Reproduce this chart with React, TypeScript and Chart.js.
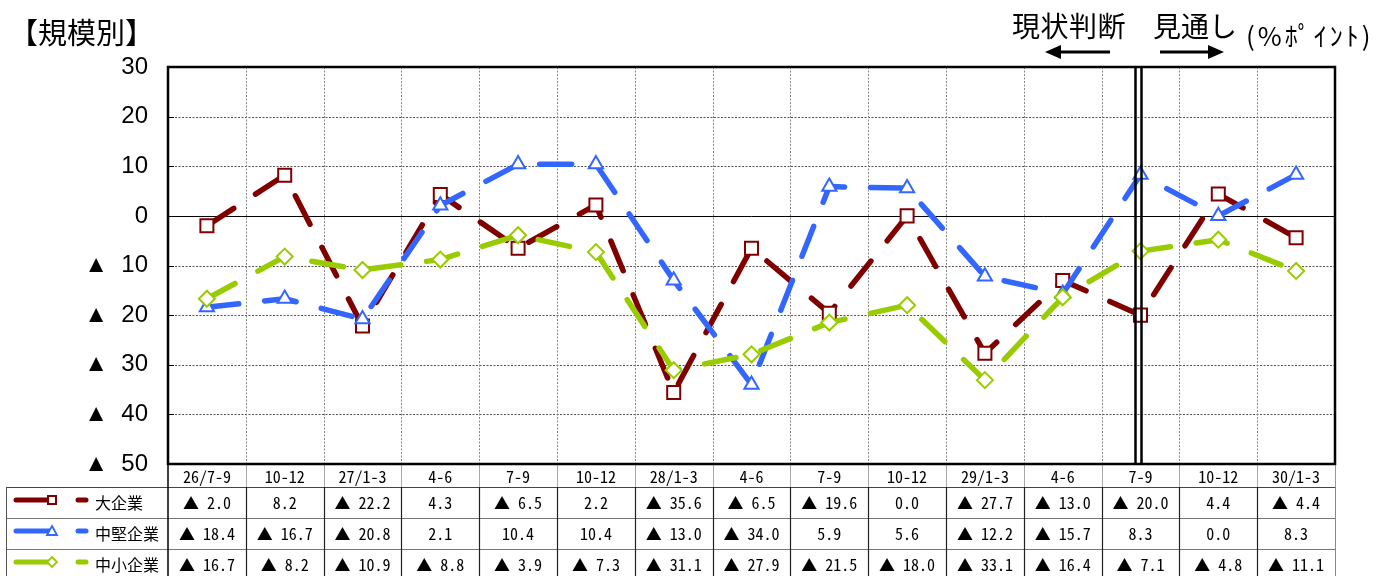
import React, { useEffect, useRef } from 'react';
import { Chart, registerables } from 'chart.js';

Chart.register(...registerables);

// ---------- data ----------
const categories = ['26/7-9', '10-12', '27/1-3', '4-6', '7-9', '10-12', '28/1-3', '4-6', '7-9', '10-12', '29/1-3', '4-6', '7-9', '10-12', '30/1-3'];
const seriesNames = ['大企業', '中堅企業', '中小企業'];
const largeValues = [-2.0, 8.2, -22.2, 4.3, -6.5, 2.2, -35.6, -6.5, -19.6, 0.0, -27.7, -13.0, -20.0, 4.4, -4.4];
const midValues = [-18.4, -16.7, -20.8, 2.1, 10.4, 10.4, -13.0, -34.0, 5.9, 5.6, -12.2, -15.7, 8.3, 0.0, 8.3];
const smallValues = [-16.7, -8.2, -10.9, -8.8, -3.9, -7.3, -31.1, -27.9, -21.5, -18.0, -33.1, -16.4, -7.1, -4.8, -11.1];
const yTicks = [30, 20, 10, 0, -10, -20, -30, -40, -50];
const dividerIndex = 12; // 現状判断 | 見通し split at "7-9"

// ---------- styles ----------
const RED = '#800000';
const BLUE = '#3366FF';
const GREEN = '#99CC00';
const COLORS = [RED, BLUE, GREEN];
const STYLES = ['rect', 'triangle', 'rectRot'];
const CJK = '"Noto Sans CJK JP", "Noto Sans CJK SC", sans-serif';
const MONO = '"Noto Sans Mono CJK JP", "Noto Sans CJK JP", monospace';
const AXIS_FONT = '"Liberation Sans", Arial, sans-serif';

const W = 1378;
const H = 576;
const PLOT_L = 168;
const PLOT_R = 1335;
const PLOT_T = 67;
const PLOT_B = 464;
const CANVAS_H = 487;
const TABLE_L = 6;
const ROW_TOP = 487;
const ROW_H = 31;
const COL_W = (PLOT_R - PLOT_L) / categories.length;

const fmtAxis = (v: number) => (v < 0 ? '▲  ' + Math.abs(v) : String(v));
const fmtTable = (v: number) => (v < 0 ? '▲ ' + Math.abs(v).toFixed(1) : v.toFixed(1));

const framePlugin = {
  id: 'frame',
  beforeDatasetsDraw(chart: any) {
    const { ctx, chartArea: a, scales } = chart;
    const x = scales.x;
    const y = scales.y;
    ctx.save();
    ctx.lineWidth = 1;
    for (const t of yTicks) {
      if (t === yTicks[0] || t === yTicks[yTicks.length - 1]) continue;
      const py = Math.round(y.getPixelForValue(t)) + 0.5;
      ctx.beginPath();
      if (t === 0) {
        ctx.setLineDash([]);
        ctx.strokeStyle = '#000';
      } else {
        ctx.setLineDash([2, 1.5]);
        ctx.strokeStyle = '#555';
      }
      ctx.moveTo(a.left, py);
      ctx.lineTo(a.right, py);
      ctx.stroke();
    }
    const hb = CANVAS_H;
    for (let i = 1; i < categories.length; i++) {
      const px = Math.round((x.getPixelForValue(i - 1) + x.getPixelForValue(i)) / 2) + 0.5;
      ctx.setLineDash([2, 1.5]);
      ctx.strokeStyle = '#888';
      ctx.beginPath();
      ctx.moveTo(px, a.top);
      ctx.lineTo(px, a.bottom);
      ctx.stroke();
      ctx.setLineDash([]);
      ctx.strokeStyle = '#aaa';
      ctx.beginPath();
      ctx.moveTo(px, a.bottom);
      ctx.lineTo(px, hb);
      ctx.stroke();
    }
    ctx.setLineDash([]);
    ctx.strokeStyle = '#999';
    ctx.beginPath();
    ctx.moveTo(a.right + 0.5, a.bottom);
    ctx.lineTo(a.right + 0.5, hb);
    ctx.stroke();
    ctx.strokeStyle = '#000';
    ctx.lineWidth = 1.5;
    ctx.beginPath();
    ctx.moveTo(a.left, a.bottom);
    ctx.lineTo(a.left, hb);
    ctx.stroke();
    ctx.restore();
  },
  afterDatasetsDraw(chart: any) {
    const { ctx, chartArea: a, scales } = chart;
    const x = scales.x;
    const y = scales.y;
    ctx.save();
    ctx.setLineDash([]);
    ctx.strokeStyle = '#000';
    ctx.lineWidth = 1;
    for (const t of yTicks) {
      const py = Math.round(y.getPixelForValue(t)) + 0.5;
      ctx.beginPath();
      ctx.moveTo(a.left, py);
      ctx.lineTo(a.left + 6, py);
      ctx.stroke();
    }
    const cx = x.getPixelForValue(dividerIndex);
    ctx.lineWidth = 2.5;
    for (const off of [-5, 1]) {
      ctx.beginPath();
      ctx.moveTo(cx + off, a.top);
      ctx.lineTo(cx + off, a.bottom);
      ctx.stroke();
    }
    ctx.lineWidth = 2.5;
    ctx.strokeRect(a.left, a.top, a.right - a.left, a.bottom - a.top);
    ctx.restore();
  },
};

function LegendMark({ idx, cy }: { idx: number; cy: number }) {
  const c = COLORS[idx];
  const mx = 52;
  let marker: React.ReactNode;
  if (idx === 0) {
    marker = <rect x={mx - 4} y={cy - 4} width={8} height={8} fill="#fff" stroke={c} strokeWidth={2} />;
  } else if (idx === 1) {
    marker = <polygon points={`${mx},${cy - 5} ${mx + 5},${cy + 4} ${mx - 5},${cy + 4}`} fill="#fff" stroke={c} strokeWidth={1.8} />;
  } else {
    marker = <polygon points={`${mx},${cy - 5} ${mx + 5},${cy} ${mx},${cy + 5} ${mx - 5},${cy}`} fill="#fff" stroke={c} strokeWidth={1.8} />;
  }
  return (
    <g>
      <line x1={16} y1={cy} x2={mx} y2={cy} stroke={c} strokeWidth={5} strokeLinecap="round" />
      {marker}
      <line x1={78} y1={cy} x2={86} y2={cy} stroke={c} strokeWidth={5} strokeLinecap="round" />
    </g>
  );
}

export default function App() {
  const canvasRef = useRef<HTMLCanvasElement | null>(null);

  useEffect(() => {
    document.body.style.margin = '0';
    document.body.style.overflow = 'hidden';
    const canvas = canvasRef.current;
    if (!canvas) return;
    const seriesData = [largeValues, midValues, smallValues];
    const chart = new Chart(canvas, {
      type: 'line',
      data: {
        labels: categories,
        datasets: seriesData.map((d, i) => ({
          label: seriesNames[i],
          data: d,
          borderColor: COLORS[i],
          borderWidth: 5.5,
          borderDash: [32, 26],
          borderCapStyle: 'round',
          borderJoinStyle: 'round',
          tension: 0,
          fill: false,
          pointStyle: STYLES[i] as any,
          pointRadius: i === 0 ? 9.2 : i === 1 ? 8.2 : 8,
          pointHoverRadius: 0,
          pointBorderWidth: 2,
          pointBorderColor: COLORS[i],
          pointBackgroundColor: '#fff',
          clip: false,
          order: 2 - i,
        })) as any,
      },
      options: {
        responsive: false,
        maintainAspectRatio: false,
        animation: false,
        events: [],
        layout: { autoPadding: false, padding: { top: PLOT_T, right: W - PLOT_R, left: 0, bottom: 0 } },
        plugins: {
          legend: { display: false },
          tooltip: { enabled: false },
          title: { display: false },
        },
        scales: {
          x: {
            type: 'category',
            offset: true,
            grid: { display: false, drawTicks: false },
            border: { display: false },
            ticks: {
              autoSkip: false,
              maxRotation: 0,
              minRotation: 0,
              padding: 3,
              color: '#000',
              font: { family: MONO, size: 16 },
            },
            afterFit: (s: any) => {
              s.height = CANVAS_H - PLOT_B;
            },
          },
          y: {
            min: yTicks[yTicks.length - 1],
            max: yTicks[0],
            grid: { display: false, drawTicks: true, tickLength: 20 },
            border: { display: false },
            ticks: {
              stepSize: 10,
              padding: 0,
              color: '#000',
              font: { family: AXIS_FONT, size: 24 },
              callback: (v: any) => fmtAxis(Number(v)),
            },
            afterFit: (s: any) => {
              s.width = PLOT_L;
            },
          },
        },
      },
      plugins: [framePlugin],
    } as any);
    return () => chart.destroy();
  }, []);

  const seriesData = [largeValues, midValues, smallValues];

  return (
    <div style={{ position: 'absolute', left: 0, top: 0, width: W, height: H, background: '#fff', overflow: 'hidden' }}>
      <canvas ref={canvasRef} width={W} height={CANVAS_H} style={{ position: 'absolute', left: 0, top: 0 }} />
      <svg width={W} height={H} style={{ position: 'absolute', left: 0, top: 0, pointerEvents: 'none' }}>
        <line x1={1058} y1={52} x2={1110} y2={52} stroke="#000" strokeWidth={3} />
        <polygon points="1045,52 1061,45 1061,59" fill="#000" />
        <line x1={1160} y1={52} x2={1210} y2={52} stroke="#000" strokeWidth={3} />
        <polygon points="1224,52 1208,45 1208,59" fill="#000" />
        {[0, 1, 2].map((r) => (
          <line key={'h' + r} x1={TABLE_L} y1={ROW_TOP + r * ROW_H + 0.5} x2={PLOT_R + 0.5} y2={ROW_TOP + r * ROW_H + 0.5} stroke={r === 0 ? '#444' : '#777'} strokeWidth={1} />
        ))}
        <line x1={TABLE_L + 0.5} y1={ROW_TOP} x2={TABLE_L + 0.5} y2={H} stroke="#555" strokeWidth={1} />
        <line x1={PLOT_L} y1={ROW_TOP} x2={PLOT_L} y2={H} stroke="#000" strokeWidth={1.5} />
        {categories.map((_, i) =>
          i === 0 ? null : (
            <line key={'v' + i} x1={Math.round(PLOT_L + i * COL_W) + 0.5} y1={ROW_TOP} x2={Math.round(PLOT_L + i * COL_W) + 0.5} y2={H} stroke="#222" strokeWidth={1.2} />
          )
        )}
        <line x1={PLOT_R + 0.5} y1={ROW_TOP} x2={PLOT_R + 0.5} y2={H} stroke="#888" strokeWidth={1} />
        {seriesNames.map((_, r) => (
          <LegendMark key={'lm' + r} idx={r} cy={ROW_TOP + r * ROW_H + 13} />
        ))}
      </svg>

      <div style={{ position: 'absolute', left: 9, top: 14, fontFamily: CJK, fontSize: 29, lineHeight: '34px', color: '#000', whiteSpace: 'nowrap' }}>【規模別】</div>
      <div style={{ position: 'absolute', left: 1012, top: 8, fontFamily: CJK, fontSize: 28, lineHeight: '34px', letterSpacing: 0.5, color: '#000', whiteSpace: 'nowrap' }}>現状判断</div>
      <div style={{ position: 'absolute', left: 1153, top: 8, fontFamily: CJK, fontSize: 28, lineHeight: '34px', color: '#000', whiteSpace: 'nowrap' }}>見通し</div>
      <div style={{ position: 'absolute', left: 1246, top: 20, fontFamily: CJK, fontSize: 26, lineHeight: '30px', letterSpacing: 3, color: '#000', whiteSpace: 'nowrap' }}>(%ﾎﾟｲﾝﾄ)</div>

      {seriesNames.map((name, r) => (
        <div key={'n' + r} style={{ position: 'absolute', left: 95, top: ROW_TOP + r * ROW_H, height: ROW_H, lineHeight: ROW_H + 'px', fontFamily: CJK, fontSize: 16, color: '#000', whiteSpace: 'nowrap' }}>{name}</div>
      ))}
      {seriesData.map((vals, r) =>
        vals.map((v, c) => (
          <div
            key={'c' + r + '_' + c}
            style={{
              position: 'absolute',
              left: PLOT_L + c * COL_W,
              width: COL_W,
              top: ROW_TOP + r * ROW_H,
              height: ROW_H,
              lineHeight: ROW_H + 'px',
              textAlign: 'center',
              fontFamily: MONO,
              fontSize: 16,
              color: '#000',
              whiteSpace: 'pre',
            }}
          >
            {fmtTable(v)}
          </div>
        ))
      )}
    </div>
  );
}
